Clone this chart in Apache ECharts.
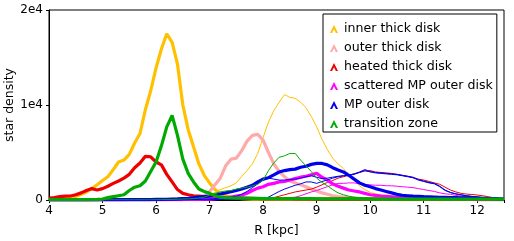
<!DOCTYPE html>
<html><head><meta charset="utf-8">
<script src="https://cdn.jsdelivr.net/npm/echarts@6/dist/echarts.min.js"></script>
<style>html,body{margin:0;padding:0;background:#fff}#c{width:514px;height:241px}</style>
</head><body><div id="c"></div>
<script>
const R = [4.0,4.1,4.2,4.3,4.4,4.5,4.6,4.7,4.8,4.9,
 5.0,5.1,5.2,5.3,5.4,5.5,5.6,5.7,5.8,5.9,
 6.0,6.1,6.2,6.3,6.4,6.5,6.6,6.7,6.8,6.9,
 7.0,7.1,7.2,7.3,7.4,7.5,7.6,7.7,7.8,7.9,
 8.0,8.1,8.2,8.3,8.4,8.5,8.6,8.7,8.8,8.9,
 9.0,9.1,9.2,9.3,9.4,9.5,9.6,9.7,9.8,9.9,
 10.0,10.1,10.2,10.3,10.4,10.5,10.6,10.7,10.8,10.9,
 11.0,11.1,11.2,11.3,11.4,11.5,11.6,11.7,11.8,11.9,
 12.0,12.1,12.2,12.3,12.4,12.5];

const legendNames = ['inner thick disk','outer thick disk','heated thick disk','scattered MP outer disk','MP outer disk','transition zone'];
const xTicks = [4,5,6,7,8,9,10,11,12];
const yTicks = ['0','1e4','2e4'];

const innerThick = [50,100,150,200,280,380,600,850,1200,1600,
 2050,2450,3200,4000,4200,4800,6000,7000,9500,11500,
 13900,15900,17500,16600,14300,10000,7400,5600,3800,2600,
 1800,1100,700,450,300,200,150,120,100,90,
 90,80,80,80,80,80,80,80,80,80,
 80,80,80,80,80,80,80,80,80,80,
 70,70,70,70,70,70,70,70,70,70,
 60,60,60,60,60,60,60,60,60,60,
 50,50,50,50,50,50];
const innerThin = [20,20,20,20,20,20,20,20,20,20,
 30,30,40,40,50,50,60,60,70,80,
 90,100,100,120,150,180,200,250,300,400,
 500,800,1100,1300,1500,1800,2500,3100,3800,4900,
 6600,8200,9400,10300,11100,10800,10700,10300,9700,8800,
 7700,6400,5300,4400,3800,3300,2700,2100,1500,1100,
 800,650,550,480,420,380,340,300,280,260,
 240,220,200,180,160,150,140,130,120,110,
 100,90,80,70,60,50];
const outerThick = [0,0,0,0,0,0,0,0,0,0,
 0,0,0,0,0,0,0,0,0,0,
 20,30,40,60,80,100,120,150,250,450,
 900,1600,2300,3600,4300,4400,5200,6200,6800,6900,
 6300,5000,3800,3000,2450,2000,1800,1600,1400,1150,
 950,750,600,450,350,300,250,200,150,120,
 100,90,80,70,60,50,50,40,40,40,
 40,30,30,30,30,30,30,30,30,30,
 20,20,20,20,20,20];
const heatedThick = [200,250,350,400,420,550,750,1000,1200,1050,
 1200,1450,1750,2000,2300,2700,3400,3900,4600,4550,
 4000,3700,2700,1900,1100,700,550,450,400,350,
 300,280,250,230,220,200,190,180,170,160,
 150,150,140,140,130,130,120,120,110,110,
 100,100,100,100,100,100,100,100,100,100,
 90,90,90,90,90,90,90,90,90,90,
 80,80,80,80,80,80,80,80,80,80,
 70,70,70,70,70,70];
const heatedThin = [0,0,0,0,0,0,0,0,0,0,
 10,10,10,10,10,10,20,20,20,20,
 20,20,30,30,30,30,30,40,40,40,
 50,50,50,60,60,60,70,70,80,90,
 100,150,250,400,550,700,850,950,1050,1150,
 1350,1600,1850,2050,2300,2450,2600,2750,2900,3050,
 3100,2950,2900,2850,2800,2700,2600,2500,2350,2200,
 2100,1950,1800,1650,1350,1050,850,700,620,580,
 520,450,350,250,180,120];
const scatteredThick = [0,0,0,0,0,0,0,0,0,0,
 20,20,20,20,20,30,30,30,30,30,
 40,40,40,50,50,50,60,60,70,80,
 100,150,200,250,300,400,500,700,1000,1250,
 1400,1650,1750,1900,1950,2100,2250,2400,2500,2650,
 2800,2400,2100,1700,1450,1250,1050,950,850,700,
 550,480,420,380,340,300,280,260,240,220,
 200,190,180,170,160,150,140,130,120,110,
 100,90,80,70,60,50];
const scatteredThin = [0,0,0,0,0,0,0,0,0,0,
 0,0,0,0,0,0,0,0,0,0,
 10,10,10,10,10,20,20,20,20,30,
 30,40,50,50,60,60,70,70,80,90,
 100,120,150,180,200,250,300,450,650,850,
 1000,1200,1400,1600,1750,1750,1800,1800,1700,1650,
 1600,1550,1550,1500,1500,1450,1400,1350,1300,1200,
 1100,1000,900,750,650,600,480,400,340,300,
 250,200,160,120,90,60];
const mpThick = [20,20,20,20,20,20,20,20,20,20,
 50,50,50,50,50,50,50,50,50,50,
 60,70,80,100,120,150,180,220,300,350,
 420,500,630,750,870,1000,1150,1350,1550,1900,
 2200,2350,2650,2950,3100,3200,3250,3450,3550,3750,
 3850,3850,3700,3400,3150,2950,2600,2200,1800,1550,
 1400,1200,1050,900,750,600,500,450,400,380,
 350,330,310,290,270,250,240,230,220,210,
 200,180,160,140,120,100];
const mpThinA = [0,0,0,0,0,0,0,0,0,0,
 20,20,20,20,20,20,20,20,20,20,
 30,30,30,30,30,40,40,50,60,80,
 100,150,200,250,300,400,600,900,1300,1700,
 2100,2300,2200,2100,2100,2150,2200,2300,2450,2550,
 2400,2250,2300,2400,2500,2550,2600,2750,2950,3200,
 3000,2900,2850,2800,2750,2700,2600,2500,2400,2150,
 2000,1850,1750,1450,1050,800,650,550,450,380,
 320,250,200,150,120,80];
const mpThinB = [0,0,0,0,0,0,0,0,0,0,
 0,0,0,0,0,0,0,0,0,0,
 10,10,10,10,10,20,20,20,30,30,
 40,40,50,50,60,60,70,80,100,120,
 150,300,600,900,1150,1350,1550,1700,1900,1900,
 1750,1950,2100,2300,2450,2550,2600,2700,2900,3100,
 2950,2850,2800,2750,2700,2650,2550,2450,2350,2100,
 1950,1800,1700,1400,1000,780,630,530,440,370,
 310,240,190,140,110,70];
const transThick = [50,50,50,50,50,50,50,50,50,60,
 100,250,350,450,550,1000,1350,1500,2000,3000,
 4000,5700,7700,8900,6800,4300,2800,1900,1150,900,
 700,450,300,250,220,200,200,200,180,180,
 150,150,150,150,150,150,150,150,150,150,
 120,120,120,120,120,120,120,120,120,120,
 100,100,100,100,100,100,100,100,100,100,
 100,100,100,100,100,100,100,100,100,100,
 100,100,100,100,100,100];
const transThin = [20,20,20,20,20,20,20,20,20,20,
 20,20,20,20,20,20,20,20,20,20,
 30,40,50,60,80,100,120,150,200,300,
 500,700,850,950,1000,1150,1250,1350,1500,1650,
 2100,3100,3900,4500,4650,4900,4900,4200,3600,3000,
 2300,1850,1500,1100,750,550,400,300,250,220,
 200,190,180,170,160,150,140,130,120,110,
 100,100,90,90,80,80,70,70,60,60,
 50,50,50,40,40,40];

const C = {yellow:'#ffc000', pink:'#ffaaaa', red:'#ee0000', magenta:'#ff00ff', blue:'#0000ee', green:'#00aa00'};
const FONT = 'DejaVu Sans';

function ser(name, arr, color, w) {
  return {
    name: name, type: 'line', showSymbol: false, symbol: 'none',
    data: R.map((r, i) => [r, arr[i]]),
    lineStyle: {color: color, width: w}, itemStyle: {color: color},
    emphasis: {disabled: true}, silent: true
  };
}

const TH = 3.2;
const series = [
  ser('inner thick disk', innerThick, C.yellow, TH),
  ser('inner thin', innerThin, C.yellow, 1),
  ser('outer thick disk', outerThick, C.pink, TH),
  ser('heated thick disk', heatedThick, C.red, TH),
  ser('heated thin', heatedThin, C.red, 1),
  ser('scattered MP outer disk', scatteredThick, C.magenta, TH),
  ser('scattered thin', scatteredThin, C.magenta, 1),
  ser('MP outer disk', mpThick, C.blue, TH),
  ser('MP thin a', mpThinA, C.blue, 1),
  ser('MP thin b', mpThinB, C.blue, 1),
  ser('transition zone', transThick, C.green, TH),
  ser('transition thin', transThin, C.green, 1)
];

const chart = echarts.init(document.getElementById('c'), null, {renderer: 'canvas'});
chart.setOption({
  animation: false,
  backgroundColor: '#fff',
  textStyle: {fontFamily: FONT},
  grid: {left: 49, right: 10, top: 10, bottom: 41, show: true, borderColor: '#000', borderWidth: 1,
         containLabel: false, outerBoundsMode: 'none'},
  xAxis: {
    type: 'value', min: 4, max: 12.5, interval: 1,
    name: 'R [kpc]', nameLocation: 'middle', nameGap: 24, nameMoveOverlap: false,
    nameTextStyle: {fontFamily: FONT, fontSize: 12.5, color: '#000'},
    axisLine: {lineStyle: {color: '#000', width: 1}},
    axisTick: {show: true, inside: false, length: 3, lineStyle: {color: '#000'}},
    axisLabel: {fontFamily: FONT, fontSize: 12, color: '#000', margin: 5,
      formatter: v => (xTicks.indexOf(v) >= 0 ? String(v) : '')},
    splitLine: {show: false}
  },
  yAxis: {
    type: 'value', min: 0, max: 20000, interval: 10000,
    name: 'star density', nameLocation: 'middle', nameGap: 33, nameMoveOverlap: false,
    nameTextStyle: {fontFamily: FONT, fontSize: 12.5, color: '#000'},
    axisLine: {show: true, lineStyle: {color: '#000', width: 1}},
    axisTick: {show: true, inside: false, length: 3, lineStyle: {color: '#000'}},
    axisLabel: {fontFamily: FONT, fontSize: 12, color: '#000', margin: 6,
      formatter: v => yTicks[Math.round(v / 10000)]},
    splitLine: {show: false}
  },
  legend: {
    data: legendNames, orient: 'vertical', left: 323, top: 14,
    icon: 'path://M0,10 L5,0 L10,10 L7.4,10 L5,5.2 L2.6,10 Z',
    itemWidth: 10, itemHeight: 8, itemGap: 5,
    padding: [8, 4, 1, 7],
    borderColor: '#000', borderWidth: 1, borderRadius: 0, backgroundColor: '#fff',
    selectedMode: false,
    itemStyle: {borderWidth: 0},
    textStyle: {fontFamily: FONT, fontSize: 12.6, color: '#000', lineHeight: 14}
  },
  series: series
});
</script></body></html>
